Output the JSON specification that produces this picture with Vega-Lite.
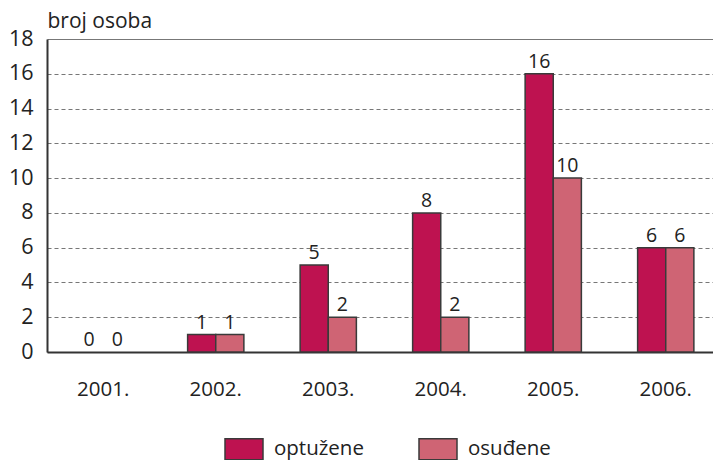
{
  "$schema": "https://vega.github.io/schema/vega-lite/v6.json",
  "autosize": "none",
  "width": 675,
  "height": 313,
  "padding": {"left": 47, "top": 39, "right": 0, "bottom": 108},
  "background": "white",
  "config": {
    "view": {"stroke": null},
    "font": "Open Sans",
    "text": {"font": "Open Sans"}
  },
  "data": {
    "values": [
      {"year": "2001.", "group": "optužene", "value": 0},
      {"year": "2001.", "group": "osuđene", "value": 0},
      {"year": "2002.", "group": "optužene", "value": 1},
      {"year": "2002.", "group": "osuđene", "value": 1},
      {"year": "2003.", "group": "optužene", "value": 5},
      {"year": "2003.", "group": "osuđene", "value": 2},
      {"year": "2004.", "group": "optužene", "value": 8},
      {"year": "2004.", "group": "osuđene", "value": 2},
      {"year": "2005.", "group": "optužene", "value": 16},
      {"year": "2005.", "group": "osuđene", "value": 10},
      {"year": "2006.", "group": "optužene", "value": 6},
      {"year": "2006.", "group": "osuđene", "value": 6}
    ]
  },
  "encoding": {
    "x": {
      "field": "year", "type": "nominal",
      "scale": {"paddingInner": 0.5, "paddingOuter": 0.25},
      "axis": {
        "title": null, "labelAngle": 0, "ticks": false,
        "domainColor": "#333333", "domainWidth": 2,
        "labelFontSize": 20.5, "labelColor": "#222222", "labelFont": "Open Sans",
        "labelPadding": 27, "labelBaseline": "top"
      }
    },
    "xOffset": {"field": "group", "type": "nominal", "sort": ["optužene", "osuđene"]},
    "y": {
      "field": "value", "type": "quantitative",
      "scale": {"domain": [0, 18], "nice": false},
      "axis": {
        "values": [0, 2, 4, 6, 8, 10, 12, 14, 16, 18],
        "title": "broj osoba", "titleAngle": 0, "titleX": 0, "titleY": -12,
        "titleAlign": "left", "titleBaseline": "alphabetic",
        "titleFontSize": 21, "titleFontWeight": "normal", "titleColor": "#222222", "titleFont": "Open Sans",
        "ticks": false, "labelPadding": 14,
        "labelFontSize": 21.5, "labelColor": "#222222", "labelFont": "Open Sans",
        "domainColor": "#333333", "domainWidth": 2,
        "grid": true,
        "gridColor": "#777777",
        "gridWidth": 1.2,
        "gridDash": {"condition": {"test": "datum.value == 18", "value": []}, "value": [4, 3]}
      }
    }
  },
  "layer": [
    {
      "mark": {"type": "bar", "stroke": "#3a3a3a", "strokeWidth": 1.5},
      "encoding": {
        "color": {
          "field": "group", "type": "nominal",
          "scale": {"domain": ["optužene", "osuđene"], "range": ["#BE1250", "#CF6474"]},
          "legend": {
            "title": null, "orient": "none", "direction": "horizontal",
            "legendX": 177, "legendY": 390,
            "symbolType": "M-1,-0.55H1V0.55H-1Z", "symbolSize": 1444,
            "symbolStrokeColor": "#3a3a3a", "symbolStrokeWidth": 1.5,
            "symbolOpacity": 1,
            "labelFontSize": 20.5, "labelColor": "#222222", "labelFont": "Open Sans",
            "labelOffset": 10, "columnPadding": 52
          }
        },
        "strokeOpacity": {"condition": {"test": "datum.value == 0", "value": 0}, "value": 1}
      }
    },
    {
      "mark": {"type": "text", "baseline": "bottom", "dy": -2, "fontSize": 19.5, "color": "#222222", "font": "Open Sans"},
      "encoding": {"text": {"field": "value", "type": "quantitative"}}
    }
  ]
}
